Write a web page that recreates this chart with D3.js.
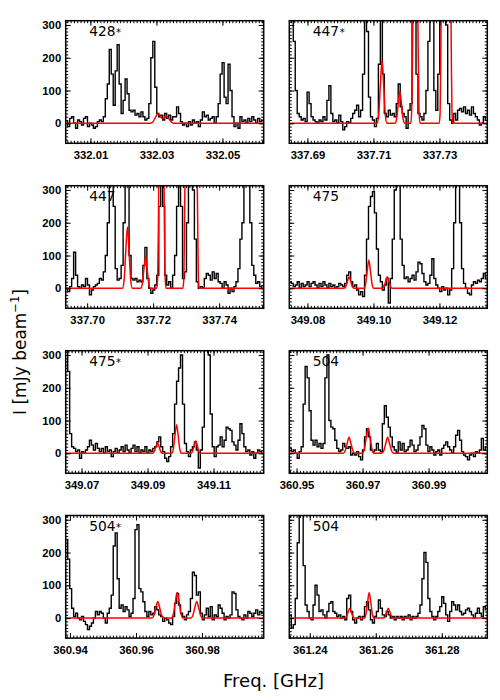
<!DOCTYPE html>
<html>
<head>
<meta charset="utf-8">
<title>spectra panels</title>
<script src="https://cdn.jsdelivr.net/npm/d3@7"></script>
<style>body{margin:0;background:#fff}</style>
</head>
<body>
<script>
// panel labels (transition energies), * = marked panels
const labels = ["428", "447", "447", "475", "475", "504", "504", "504"];
const starred = [true, true, false, false, true, false, true, false];

// frequency ranges [GHz] and labelled ticks per panel
const xDomains = [
  [332.0025, 332.0625], [337.6845, 337.7445],
  [337.6935, 337.7535], [349.0745, 349.1345],
  [349.0652, 349.1252], [360.9478, 361.0078],
  [360.9387, 360.9987], [361.2338, 361.2938]
];
const xTicks = [
  [332.01, 332.03, 332.05], [337.69, 337.71, 337.73],
  [337.70, 337.72, 337.74], [349.08, 349.10, 349.12],
  [349.07, 349.09, 349.11], [360.95, 360.97, 360.99],
  [360.94, 360.96, 360.98], [361.24, 361.26, 361.28]
];
const yTicks = [0, 100, 200, 300];
const chanWidth = 0.0006; // GHz per channel

// observed spectra, mJy/beam, one value per channel from the start of each range
const spec1 = [5,-10,15,20,0,-15,10,5,-5,15, 20,-10,0,-5,-15,-10,5,10,5,20, 75,120,225,150,55,160,240,120,30,70,
  135,90,40,35,40,25,30,20,35,20, 10,15,60,200,250,110,30,20,25,10, 30,15,25,10,20,20,50,30,5,-5,
  0,-10,5,-5,10,0,5,-10,10,35, 20,25,10,15,20,0,20,60,150,185, 80,60,180,100,20,-10,0,-15,20,5,
  10,0,15,5,20,10,0,15,5,10];
const spec2 = [400,350,250,100,30,20,10,15,5,95, 60,20,10,5,0,10,5,20,10,70, 115,30,5,10,0,25,5,-20,-10,5,
  0,15,30,40,55,20,40,150,330,280, 80,20,10,-10,15,180,330,150,30,20, 40,25,30,20,60,120,50,30,20,-15,
  40,60,350,400,150,30,20,10,30,100, 250,400,350,100,40,150,400,400,400,300, 60,10,0,30,10,40,45,35,50,30,
  40,25,50,30,20,10,-5,0,20,10];
const spec3 = [0,-10,5,30,110,40,5,0,10,5, 30,10,-20,-5,5,10,15,30,25,50, 100,200,320,350,250,60,25,30,70,200,
  330,320,100,30,25,30,20,25,20,70, 125,30,0,-15,-5,10,40,250,400,250, 40,10,20,0,40,100,250,350,250,30,
  50,200,400,400,300,150,20,0,5,0, 30,45,40,25,50,30,45,20,15,0, 20,10,-15,0,-10,5,20,60,150,200,
  320,400,350,200,70,40,15,20,5,0];
const spec4 = [20,15,5,10,20,0,15,5,10,20, 5,15,20,10,0,15,5,20,10,0, 15,5,10,0,5,15,10,5,15,40,
  50,20,5,10,-5,-20,-10,-25,40,150, 250,280,295,230,120,40,20,-5,10,30, -45,30,150,300,400,350,150,70,30,35,
  20,30,40,25,50,80,75,45,20,10, 15,40,90,30,10,0,-10,5,-5,0, -20,-5,60,200,350,320,200,60,15,0,
  -15,-20,10,20,15,25,20,30,45,30];
const spec5 = [400,250,60,20,15,5,10,-15,5,0, 10,20,40,25,10,30,15,5,15,0, 20,5,10,-10,5,15,0,10,20,5,
  25,10,0,15,25,5,20,0,10,5, 20,0,10,5,15,20,35,50,20,5, -15,-25,-10,20,60,150,220,260,300,150,
  30,5,-10,10,20,35,10,-45,10,80, 350,400,300,120,20,-10,20,25,50,20, 40,80,75,70,35,25,10,40,90,60,
  20,5,10,-5,5,-15,0,10,5,0];
const spec6 = [15,5,10,0,-15,5,20,150,265,230, 130,40,25,40,20,30,15,30,230,300, 100,80,75,40,15,5,10,30,20,15,
  20,-5,0,-5,5,-10,-20,10,50,75, 50,10,5,10,30,10,5,90,145,110, 80,50,20,10,0,35,10,30,5,10,
  20,40,25,5,10,25,50,85,75,25, 5,20,10,-5,5,10,-5,15,25,35, 20,10,0,20,55,70,40,5,-5,-10,
  -20,-5,0,-10,5,0,10,45,10,20];
const spec7 = [240,180,90,30,5,15,0,-5,5,-10, -20,-35,-25,-15,0,20,10,20,15,0, -15,15,30,70,220,260,120,30,40,20,
  35,25,5,15,60,270,285,90,80,50, 20,5,20,10,15,35,25,10,5,-10, 0,-5,-15,-20,5,45,75,40,15,5,
  -5,10,20,60,140,130,70,80,15,-5, 10,30,5,35,-5,10,5,40,30,15, -5,5,0,10,80,75,25,5,0,-5,
  10,0,20,15,5,15,25,10,20,15];
const spec8 = [10,-30,-20,60,230,400,350,160,40,20, 0,-5,40,100,70,20,25,10,0,20, 45,50,20,15,5,10,0,5,-5,60,
  70,20,-5,-15,0,5,-5,5,35,50, 25,-5,-15,5,20,55,30,10,5,20, 10,0,5,-5,5,0,5,-5,5,0,
  10,-5,5,0,5,15,40,120,200,170, 60,20,5,-5,5,20,35,65,45,10, -10,20,50,40,25,40,20,10,15,25,
  30,20,10,0,15,30,15,5,35,25];

// model spectra [GHz, mJy/beam]
const model1 = [[332.0025,0],[332.0281,0],[332.0289,4],[332.0297,18],[332.0305,30],[332.0313,20],[332.0317,15],
  [332.0322,16],[332.033,22],[332.0338,13],[332.0346,3],[332.0354,0],[332.0625,0]];
const model2 = [[337.6845,0],
  [337.7111,0],[337.7116,26],[337.7121,117],[337.7126,193],[337.7131,117],[337.7136,26],[337.7141,0],
  [337.7165,0],[337.717,13],[337.7175,59],[337.718,97],[337.7185,59],[337.719,13],[337.7195,0],
  [337.7213,0],[337.7216,40],[337.7219,280],[337.7222,600],[337.7227,900],[337.7232,600],[337.7235,280],[337.7238,40],[337.7241,0],
  [337.7299,0],[337.7302,30],[337.7304,200],[337.7306,450],[337.732,1000],[337.7334,450],[337.7336,200],[337.7338,30],[337.7341,0],
  [337.7445,0]];
const model3 = [[337.6935,0],
  [337.7107,0],[337.7112,25],[337.7117,113],[337.7122,187],[337.7127,113],[337.7132,25],[337.7137,0],
  [337.7162,0],[337.7167,13],[337.7172,58],[337.7177,96],[337.7182,58],[337.7187,13],[337.7192,0],
  [337.7211,0],[337.7214,40],[337.7216,200],[337.7219,600],[337.7225,900],[337.7231,600],[337.7234,200],[337.7236,40],[337.7239,0],
  [337.729,0],[337.7293,30],[337.7295,200],[337.7298,450],[337.7315,1000],[337.7332,450],[337.7335,200],[337.7337,30],[337.734,0],
  [337.7535,0]];
const model4 = [[349.0745,0],[349.0911,0],[349.0916,5],[349.0921,21],[349.0926,35],[349.0931,21],[349.0936,5],[349.0941,0],
  [349.0971,0],[349.0976,12],[349.0981,52],[349.0986,86],[349.0991,52],[349.0996,12],[349.1001,0],
  [349.1027,0],[349.1032,5],[349.1037,21],[349.1042,35],[349.1047,21],[349.1052,5],[349.1057,0],[349.1345,0]];
const model5 = [[349.0652,0],[349.0915,0],[349.092,5],[349.0925,20],[349.093,33],[349.0935,20],[349.094,5],[349.0945,0],
  [349.0973,0],[349.0978,12],[349.0983,53],[349.0988,87],[349.0993,53],[349.0998,12],[349.1003,0],
  [349.1031,0],[349.1036,5],[349.1041,23],[349.1046,38],[349.1051,23],[349.1056,5],[349.1061,0],[349.1252,0]];
const model6 = [[360.9478,0],[360.9641,0],[360.9647,7],[360.9653,29],[360.9659,49],[360.9665,29],[360.9671,7],[360.9677,0],
  [360.9699,0],[360.9705,11],[360.9711,46],[360.9717,77],[360.9723,46],[360.9729,11],[360.9735,0],
  [360.9758,0],[360.9764,7],[360.977,29],[360.9776,49],[360.9782,29],[360.9788,7],[360.9794,0],[361.0078,0]];
const model7 = [[360.9387,0],[360.9648,0],[360.9654,7],[360.966,31],[360.9666,51],[360.9672,31],[360.9678,7],[360.9684,0],
  [360.9707,0],[360.9713,11],[360.9719,47],[360.9725,78],[360.9731,47],[360.9737,11],[360.9743,0],
  [360.9766,0],[360.9772,7],[360.9778,31],[360.9784,51],[360.979,31],[360.9796,7],[360.9802,0],[360.9987,0]];
const model8 = [[361.2338,0],[361.2506,0],[361.2511,4],[361.2516,18],[361.2521,30],[361.2526,18],[361.2531,4],[361.2536,0],
  [361.2565,0],[361.257,11],[361.2575,47],[361.258,78],[361.2585,47],[361.259,11],[361.2595,0],
  [361.2623,0],[361.2628,4],[361.2633,18],[361.2638,30],[361.2643,18],[361.2648,4],[361.2653,0],[361.2938,0]];

const specs = [spec1, spec2, spec3, spec4, spec5, spec6, spec7, spec8];
const models = [model1, model2, model3, model4, model5, model6, model7, model8];

// layout
const w = 500, h = 700;
const pw = 198, ph = 122.6;
const colX = [65.7, 289.3];
const rowY = [20.7, 185.7, 350.7, 515.5];
const tickFont = "'Liberation Sans', Arial, sans-serif";
const textFont = "'DejaVu Sans', sans-serif";

const y = d3.scaleLinear().domain([-61, 313]).range([ph, 0]);
const yMinor = d3.range(-60, 311, 10);

const svg = d3.select("body").append("svg")
  .attr("width", w)
  .attr("height", h);
const defs = svg.append("defs");

specs.forEach(function (vals, k) {
  const x = d3.scaleLinear().domain(xDomains[k]).range([0, pw]);
  const f0 = xDomains[k][0];
  const xMinor = d3.range(Math.ceil(f0 / 0.001), Math.floor(xDomains[k][1] / 0.001) + 1)
    .map(function (n) { return n * 0.001; });

  const g = svg.append("g")
    .attr("transform", "translate(" + colX[k % 2] + "," + rowY[Math.floor(k / 2)] + ")");

  defs.append("clipPath").attr("id", "clip" + k)
    .append("rect").attr("width", pw).attr("height", ph);

  // label
  const t = g.append("text")
    .attr("x", 23.5).attr("y", 15.5)
    .attr("font-family", textFont).attr("font-size", 13.8)
    .text(labels[k]);
  if (starred[k]) {
    t.append("tspan").attr("font-size", 10).attr("dx", 0.5).text("*");
  }

  const plot = g.append("g").attr("clip-path", "url(#clip" + k + ")");

  // observed spectrum as histogram
  const spLine = d3.line()
    .x(function (d, i) { return x(f0 + (i + 0.5) * chanWidth); })
    .y(function (d) { return y(d); })
    .curve(d3.curveStep);
  plot.append("path")
    .attr("d", spLine(vals))
    .attr("fill", "none")
    .attr("stroke", "#000")
    .attr("stroke-width", 1.4);

  // model
  const mLine = d3.line()
    .x(function (d) { return x(d[0]); })
    .y(function (d) { return y(d[1]); })
    .curve(d3.curveMonotoneX);
  plot.append("path")
    .attr("d", mLine(models[k]))
    .attr("fill", "none")
    .attr("stroke", "#ff0000")
    .attr("stroke-width", 1.5);

  // axes, ticks inward on all sides
  function clean(sel) { sel.select(".domain").remove(); }
  g.append("g").attr("transform", "translate(0," + ph + ")")
    .call(d3.axisBottom(x).tickValues(xMinor).tickSize(-2.5).tickFormat("")).call(clean);
  g.append("g")
    .call(d3.axisTop(x).tickValues(xMinor).tickSize(-2.5).tickFormat("")).call(clean);
  g.append("g")
    .call(d3.axisLeft(y).tickValues(yMinor).tickSize(-2.5).tickFormat("")).call(clean);
  g.append("g").attr("transform", "translate(" + pw + ",0)")
    .call(d3.axisRight(y).tickValues(yMinor).tickSize(-2.5).tickFormat("")).call(clean);

  const xb = g.append("g").attr("transform", "translate(0," + ph + ")")
    .call(d3.axisBottom(x).tickValues(xTicks[k]).tickSize(-5).tickPadding(7.5).tickFormat(d3.format(".2f")))
    .call(clean);
  g.append("g")
    .call(d3.axisTop(x).tickValues(xTicks[k]).tickSize(-5).tickFormat("")).call(clean);
  g.append("g").attr("transform", "translate(" + pw + ",0)")
    .call(d3.axisRight(y).tickValues(yTicks).tickSize(-5).tickFormat("")).call(clean);
  const yl = g.append("g")
    .call(d3.axisLeft(y).tickValues(yTicks).tickSize(-5).tickPadding(4.5).tickFormat(d3.format("d")))
    .call(clean);
  if (k % 2 === 1) yl.selectAll("text").remove();

  [xb, yl].forEach(function (a) {
    a.attr("font-family", tickFont).attr("font-size", 11.3).attr("font-weight", "bold");
    a.selectAll("text").attr("fill", "#000");
  });
  g.selectAll(".tick line").attr("stroke", "#000").attr("stroke-width", 1);

  // frame
  g.append("rect")
    .attr("width", pw).attr("height", ph)
    .attr("fill", "none")
    .attr("stroke", "#000")
    .attr("stroke-width", 1.5);
});

// axis titles
svg.append("text")
  .attr("x", 273.5).attr("y", 687)
  .attr("text-anchor", "middle")
  .attr("font-family", textFont).attr("font-size", 18)
  .text("Freq. [GHz]");

const yt = svg.append("text")
  .attr("transform", "translate(26,352) rotate(-90)")
  .attr("text-anchor", "middle")
  .attr("font-family", textFont).attr("font-size", 17)
  .text("I [mJy beam");
yt.append("tspan").attr("font-size", 11.5).attr("dy", -7).text("\u22121");
yt.append("tspan").attr("dy", 7).text("]");
</script>
</body>
</html>
